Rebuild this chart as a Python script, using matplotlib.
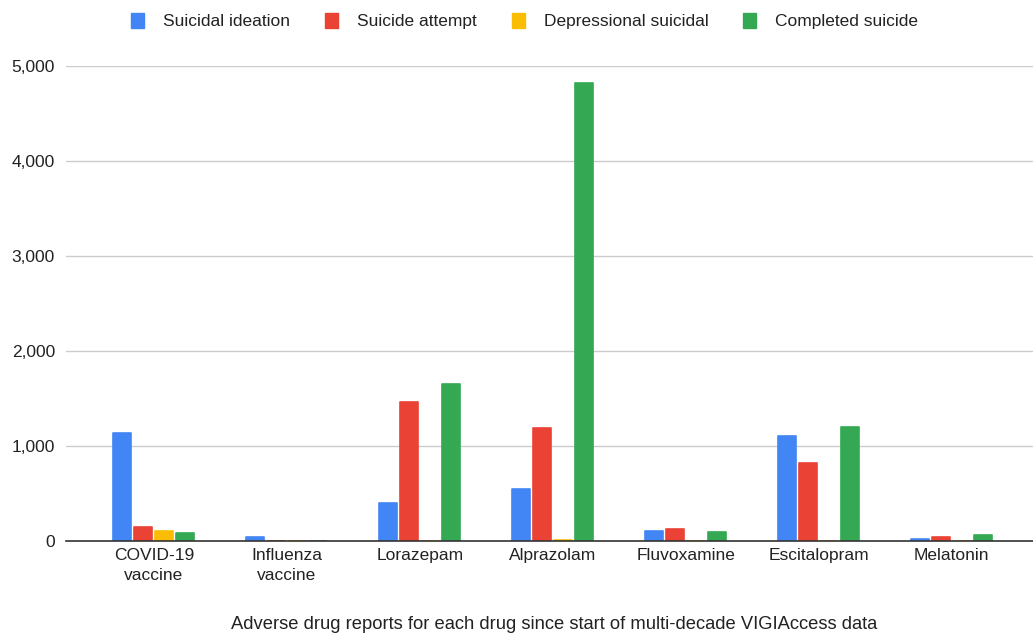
import matplotlib.pyplot as plt
from matplotlib.patches import Patch
import numpy as np

plt.rcParams['font.family'] = ['Liberation Sans', 'DejaVu Sans']

drugs = ["COVID-19\nvaccine", "Influenza\nvaccine", "Lorazepam", "Alprazolam",
         "Fluvoxamine", "Escitalopram", "Melatonin"]
series = ["Suicidal ideation", "Suicide attempt", "Depressional suicidal", "Completed suicide"]
ideation = [1137, 40, 400, 547, 105, 1105, 25]
attempt = [145, 5, 1463, 1189, 126, 821, 40]
depressional = [110, 0, 0, 10, 3, 5, 0]
completed = [80, 5, 1653, 4821, 95, 1200, 60]
colors = ["#4285F4", "#EA4335", "#FBBC04", "#34A853"]

fig = plt.figure(figsize=(10.33, 6.33), dpi=100)
ax = fig.add_axes([66 / 1033, 92 / 633, 967 / 1033, 475 / 633])

x = np.arange(len(drugs))
step = 0.158
width = 0.135
for i, (vals, c) in enumerate(zip([ideation, attempt, depressional, completed], colors)):
    ax.bar(x + (i - 1.5) * step, vals, width, color=c, edgecolor=c,
           linewidth=1.2, joinstyle='round', zorder=3)

ax.set_xlim(-0.66, 6.61)
ax.set_ylim(0, 5000)
ax.set_yticks([0, 1000, 2000, 3000, 4000, 5000])
ax.set_yticklabels(["0", "1,000", "2,000", "3,000", "4,000", "5,000"])
ax.set_xticks(x)
ax.set_xticklabels(drugs)
ax.tick_params(axis='both', length=0, labelsize=12.5, colors='#222222')
ax.tick_params(axis='y', pad=8)
ax.tick_params(axis='x', pad=5)
for lbl in ax.get_xticklabels():
    lbl.set_linespacing(1.45)
ax.grid(axis='y', color='#cccccc', linewidth=1, zorder=0)
for s in ['top', 'right', 'left']:
    ax.spines[s].set_visible(False)
ax.spines['bottom'].set_color('#333333')
ax.spines['bottom'].set_linewidth(1.2)
ax.spines['bottom'].set_zorder(4)

fig.text(0.536, 0.014, "Adverse drug reports for each drug since start of multi-decade VIGIAccess data",
         ha='center', va='center', fontsize=13.2, color='#222222')

handles = [Patch(facecolor=c, edgecolor=c, label=s) for s, c in zip(series, colors)]
fig.legend(handles=handles, loc='center', bbox_to_anchor=(0.508, 0.967), ncol=4,
           frameon=False, fontsize=12.5, handlelength=0.75, handleheight=0.95,
           handletextpad=1.1, columnspacing=2.0, labelcolor='#222222')

plt.savefig("out.png", dpi=100)
